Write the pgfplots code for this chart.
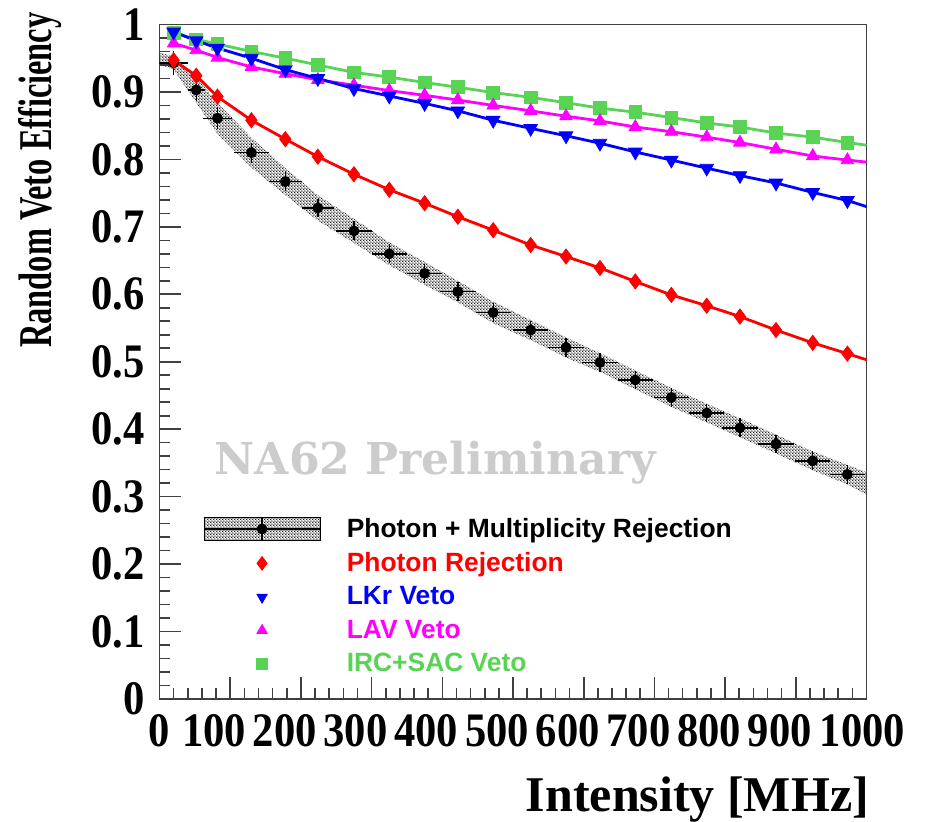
\documentclass[border=0pt]{standalone}
\usepackage{fontspec}
\setmainfont{Liberation Serif}
\newfontfamily\helv{Liberation Sans}
\newfontfamily\wmfont{DejaVu Serif}
\usepackage{graphicx}
\usepackage{pgfplots}
\usepackage{pgfplotstable}
\pgfplotsset{compat=1.18}
\usetikzlibrary{patterns.meta}

\definecolor{rred}{RGB}{255,0,0}
\definecolor{rblue}{RGB}{0,0,255}
\definecolor{rmag}{RGB}{255,0,255}
\definecolor{rgreen}{RGB}{89,211,84}
\definecolor{wmgray}{RGB}{204,204,204}

% stretched tick label, padded on the right so it sits left of its tick
\newcommand{\xl}[2]{\scalebox{1.15}[1.3]{#1}\hspace*{#2}}

% fine stipple for the systematic band
\tikzdeclarepattern{
  name=fdots, type=uncolored,
  bottom left={(0pt,0pt)}, top right={(1.6pt,1.6pt)},
  tile size={(1.6pt,1.6pt)},
  code={\fill (0.4pt,0.4pt) circle (0.5pt); \fill (1.2pt,1.2pt) circle (0.5pt);}
}

% intensity [MHz], errors and efficiencies
\pgfplotstableread{
x   ex  blk   ey    red   blu   mag   grn
20  20  0.943 0.018 0.947 0.989 0.972 0.988
52  12  0.903 0.016 0.924 0.976 0.962 0.978
82  20  0.861 0.016 0.893 0.965 0.951 0.971
130 25  0.810 0.015 0.858 0.950 0.937 0.960
178 23  0.767 0.014 0.830 0.933 0.927 0.950
224 23  0.728 0.014 0.804 0.920 0.918 0.940
275 25  0.694 0.014 0.778 0.905 0.910 0.929
325 25  0.660 0.014 0.755 0.894 0.902 0.922
375 25  0.631 0.014 0.735 0.883 0.895 0.914
422 25  0.604 0.014 0.715 0.872 0.888 0.907
472 25  0.573 0.014 0.695 0.858 0.880 0.899
525 25  0.547 0.014 0.673 0.846 0.872 0.892
575 25  0.521 0.014 0.656 0.835 0.864 0.884
623 25  0.499 0.014 0.639 0.824 0.857 0.876
673 25  0.473 0.014 0.619 0.811 0.848 0.870
724 25  0.447 0.014 0.599 0.799 0.841 0.862
774 25  0.424 0.014 0.583 0.787 0.833 0.854
821 25  0.402 0.014 0.567 0.776 0.825 0.848
872 25  0.378 0.014 0.547 0.765 0.815 0.839
924 25  0.353 0.014 0.528 0.751 0.805 0.833
973 25  0.333 0.014 0.512 0.739 0.799 0.825
}\effdata

\begin{document}
\begin{tikzpicture}
\begin{axis}[
  scale only axis, width=353.5pt, height=337.25pt,
  xmin=0, xmax=1000, ymin=0, ymax=1,
  axis line style={black!75, line width=0.8pt},
  tick align=inside, tick pos=left,
  xtick={0,100,...,1000}, ytick distance=0.1,
  xticklabels={\xl{0}{0pt}, \xl{100}{16pt}, \xl{200}{16pt}, \xl{300}{16pt},
    \xl{400}{16pt}, \xl{500}{16pt}, \xl{600}{16pt}, \xl{700}{16pt},
    \xl{800}{16pt}, \xl{900}{16pt}, \xl{1000}{4pt}},
  minor x tick num=4, minor y tick num=4,
  major tick length=11pt, minor tick length=5.5pt,
  every tick/.style={black!75, line width=0.8pt},
  ticklabel style={font=\bfseries\fontsize{18.5}{20}\selectfont},
  /pgf/number format/assume math mode=true,
  yticklabel={\scalebox{1.15}[1.3]{\pgfmathprintnumber{\tick}}},
  xticklabel style={yshift=-4pt},
  yticklabel style={xshift=-4pt},
  xlabel={Intensity [MHz]},
  ylabel={\scalebox{1}[1.45]{Random Veto Efficiency}},
  xlabel style={font=\bfseries\fontsize{25}{28}\selectfont, inner sep=0pt,
    at={(axis description cs:1.004,-0.1675)}, anchor=base east},
  ylabel style={font=\bfseries\fontsize{16.2}{18}\selectfont, inner sep=0pt,
    at={(axis description cs:-0.169,1.0185)}, anchor=east},
  legend image code/.code={\draw[mark repeat=2,mark phase=2,#1]
    plot coordinates {(0pt,0pt) (29pt,0pt) (58pt,0pt)};},
  legend style={at={(axis description cs:0.0615,0.272)}, anchor=north west,
    draw=none, fill=none, inner sep=0pt, row sep=4.1pt,
    font=\helv\bfseries\fontsize{13.2}{16}\selectfont,
    nodes={inner sep=1pt},
    /tikz/every odd column/.append style={column sep=12pt}},
  legend cell align=left,
]

% systematic band
\addplot[forget plot, draw=none, pattern={fdots}, pattern color=black!85] coordinates {
  (0,0.958) (20,0.953) (52,0.922) (82,0.884) (130,0.832) (178,0.787) (224,0.747)
  (275,0.712) (325,0.677) (375,0.648) (422,0.620) (472,0.589) (525,0.562)
  (575,0.536) (623,0.513) (673,0.487) (724,0.461) (774,0.438) (821,0.416)
  (872,0.392) (924,0.367) (973,0.347) (1000,0.336)
  (1000,0.303) (973,0.318) (924,0.339) (872,0.364) (821,0.388) (774,0.410)
  (724,0.433) (673,0.459) (623,0.485) (575,0.506) (525,0.532) (472,0.557)
  (422,0.588) (375,0.614) (325,0.643) (275,0.676) (224,0.709) (178,0.747)
  (130,0.788) (82,0.838) (52,0.884) (20,0.933) (0,0.941)
} -- cycle;

% photon + multiplicity
\addplot[forget plot, black, only marks, mark=*, mark size=2.5pt,
  error bars/.cd, x dir=both, x explicit, y dir=both, y explicit,
  error mark=none, error bar style={line width=0.7pt}]
  table[x=x, y=blk, x error=ex, y error=ey] {\effdata};

% photon rejection
\addplot[forget plot, rred, line width=1.4pt, no marks] table[x=x, y=red] {\effdata};
\addplot[forget plot, rred, line width=1.4pt, no marks] coordinates {(973,0.512) (1000,0.503)};
\addplot[forget plot, rred, only marks, mark=diamond*, mark size=3.8pt] table[x=x, y=red] {\effdata};

% IRC+SAC
\addplot[forget plot, rgreen, line width=1.4pt, no marks] table[x=x, y=grn] {\effdata};
\addplot[forget plot, rgreen, line width=1.4pt, no marks] coordinates {(973,0.825) (1000,0.821)};
\addplot[forget plot, rgreen, only marks, mark=square*, mark size=3.2pt] table[x=x, y=grn] {\effdata};

% LAV
\addplot[forget plot, rmag, line width=1.4pt, no marks] table[x=x, y=mag] {\effdata};
\addplot[forget plot, rmag, line width=1.4pt, no marks] coordinates {(973,0.799) (1000,0.796)};
\addplot[forget plot, rmag, only marks, mark=triangle*, mark size=3.6pt] table[x=x, y=mag] {\effdata};

% LKr
\addplot[forget plot, rblue, line width=1.4pt, no marks] table[x=x, y=blu] {\effdata};
\addplot[forget plot, rblue, line width=1.4pt, no marks] coordinates {(973,0.739) (1000,0.730)};
\addplot[forget plot, rblue, only marks, mark=triangle*, mark size=3.9pt,
  mark options={rotate=180}] table[x=x, y=blu] {\effdata};

\node[wmgray, font=\wmfont\bfseries\fontsize{22}{24}\selectfont] at (axis cs:390,0.35) {NA62 Preliminary};

% legend
\addlegendimage{legend image code/.code={
  \fill[pattern={fdots}, pattern color=black!85] (0pt,-5.8pt) rectangle (58pt,5.8pt);
  \draw[black, line width=0.7pt] (0pt,0pt) -- (58pt,0pt) (29pt,-5.8pt) -- (29pt,5.8pt)
    (25pt,5.8pt) -- (33pt,5.8pt) (25pt,-5.8pt) -- (33pt,-5.8pt);
  \fill[black] (29pt,0pt) circle (2.5pt);}}
\addlegendentry{Photon + Multiplicity Rejection}
\addlegendimage{rred, /tikz/only marks, mark=diamond*, mark size=3.4pt}
\addlegendentry{\textcolor{rred}{Photon Rejection}}
\addlegendimage{rblue, /tikz/only marks, mark=triangle*, mark size=3pt, mark options={rotate=180}}
\addlegendentry{\textcolor{rblue}{LKr Veto}}
\addlegendimage{rmag, /tikz/only marks, mark=triangle*, mark size=3pt}
\addlegendentry{\textcolor{rmag}{LAV Veto}}
\addlegendimage{rgreen, /tikz/only marks, mark=square*, mark size=2.7pt}
\addlegendentry{\textcolor{rgreen}{IRC+SAC Veto}}
\end{axis}
\pgfresetboundingbox
\path[use as bounding box] (current axis.south west) ++(-79.75pt,-61.5pt) rectangle ([shift={(34.75pt,12.25pt)}]current axis.north east);
\end{tikzpicture}
\end{document}
